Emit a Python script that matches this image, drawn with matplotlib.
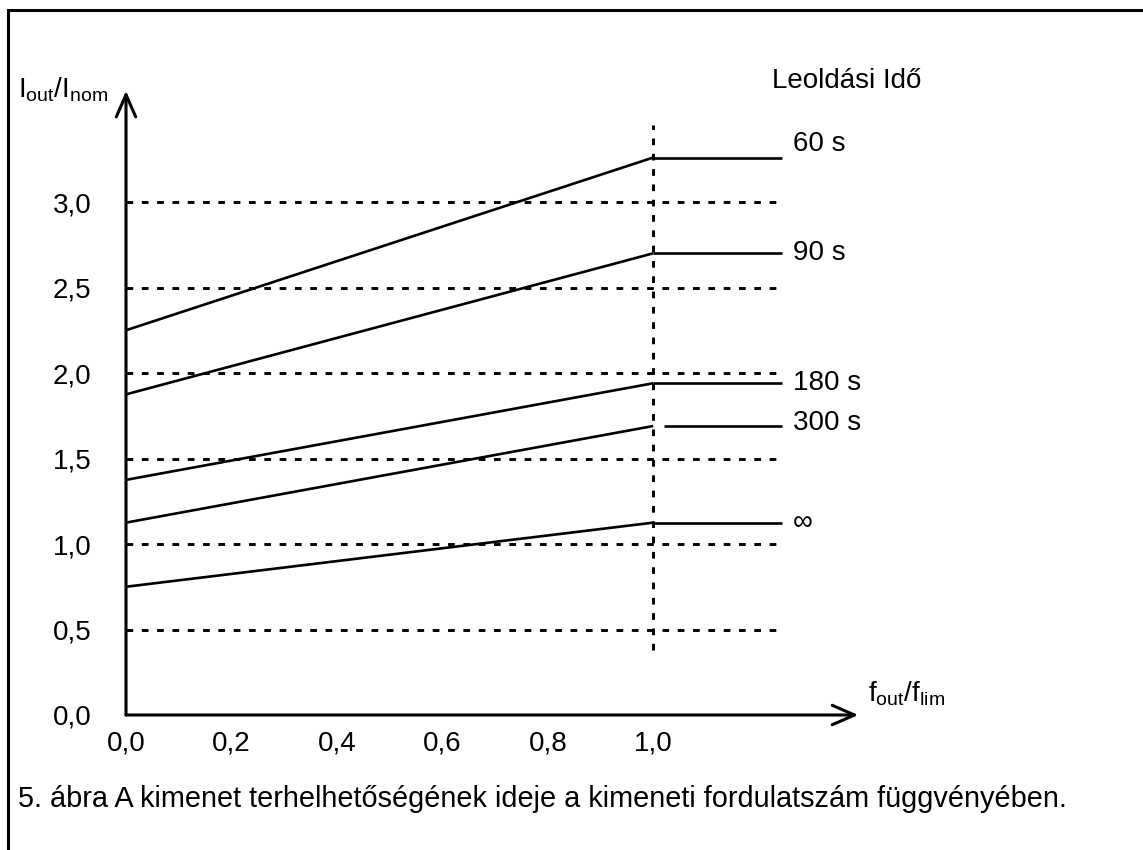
import matplotlib
matplotlib.use("Agg")
import matplotlib.pyplot as plt
from matplotlib.lines import Line2D

plt.rcParams['font.family'] = ['Liberation Sans', 'DejaVu Sans']
plt.rcParams['mathtext.fontset'] = 'custom'
plt.rcParams['mathtext.rm'] = 'Liberation Sans'
plt.rcParams['mathtext.it'] = 'Liberation Sans'

# --- data -----------------------------------------------------------------
labels = ["60 s", "90 s", "180 s", "300 s", "\u221e"]
start_vals = [2.25, 1.875, 1.375, 1.125, 0.75]   # at f_out/f_lim = 0
knee_vals = [3.26, 2.70, 1.94, 1.69, 1.125]      # at f_out/f_lim = 1 and beyond
flat_start = [1.0, 1.0, 1.0, 1.02, 1.0]          # 300 s flat part starts after a gap
label_y = [3.34, 2.70, 1.94, 1.71, 1.125]

y_ticks = [0.0, 0.5, 1.0, 1.5, 2.0, 2.5, 3.0]
y_tick_labels = ["0,0", "0,5", "1,0", "1,5", "2,0", "2,5", "3,0"]
x_ticks = [0.0, 0.2, 0.4, 0.6, 0.8, 1.0]
x_tick_labels = ["0,0", "0,2", "0,4", "0,6", "0,8", "1,0"]

x_end = 1.245        # right end of the flat lines and dashed grid
x_max, y_max = 1.389, 3.65

W, H = 1143, 850
FS = 20
fig = plt.figure(figsize=(W / 100, H / 100), dpi=100)


def px(x, y):
    """pixel (from top-left) -> figure fraction"""
    return x / W, 1 - y / H


ax = fig.add_axes([126 / W, 135 / H, 732.3 / W, 171 * y_max / H])
ax.set_xlim(0, x_max)
ax.set_ylim(0, y_max)
for s in ax.spines.values():
    s.set_visible(False)

ax.set_yticks(y_ticks, y_tick_labels)
ax.set_xticks(x_ticks, x_tick_labels)
ax.tick_params(axis='both', length=0, labelsize=FS)
ax.tick_params(axis='y', pad=25)
ax.tick_params(axis='x', pad=11)

dash = (0, (2.3, 2.95))
lw = 2.1

# dashed horizontal grid
for yv in y_ticks[1:]:
    ax.plot([0, x_end], [yv, yv], color='black', lw=lw, linestyle=dash,
            dash_capstyle='butt', clip_on=False)
# dotted vertical line at 1,0
ax.plot([1.0, 1.0], [0.38, 3.45], color='black', lw=lw, linestyle=dash,
        clip_on=False)

# curves
for lab, y0, y1, xs, ly in zip(labels, start_vals, knee_vals, flat_start, label_y):
    ax.plot([0, 1.0], [y0, y1], color='black', lw=1.9, solid_capstyle='butt')
    ax.plot([xs, x_end], [y1, y1], color='black', lw=1.9, solid_capstyle='butt',
            clip_on=False)
    ax.text(1.265, ly, lab, fontsize=FS, va='center', ha='left')

# axes with open arrowheads
arr = dict(arrowstyle='->,head_length=16,head_width=7', lw=2.2, color='black',
           shrinkA=0, shrinkB=0, mutation_scale=1)
ax.annotate("", xy=(x_max, 0), xytext=(0, 0), arrowprops=arr,
            annotation_clip=False)
ax.annotate("", xy=(0, y_max), xytext=(0, 0), arrowprops=arr,
            annotation_clip=False)

# axis titles and caption
fig.text(*px(18, 97), r"$\mathregular{I_{out}/I_{nom}}$", fontsize=FS,
         ha='left', va='baseline')
fig.text(*px(772, 88), "Leoldási Idő", fontsize=FS, ha='left', va='baseline')
fig.text(*px(868, 702), r"$\mathregular{f_{out}/f_{lim}}$", fontsize=FS,
         ha='left', va='baseline')
fig.text(*px(18, 807),
         "5. ábra A kimenet terhelhetőségének ideje a kimeneti fordulatszám függvényében.",
         fontsize=20.8, ha='left', va='baseline')

# frame lines (top and left)
fig.add_artist(Line2D([8 / W, 1.0], [1 - 10 / H, 1 - 10 / H], color='black', lw=2.2))
fig.add_artist(Line2D([8 / W, 8 / W], [1 - 10 / H, 0.0], color='black', lw=2.2))

fig.savefig("out.png", dpi=100)
